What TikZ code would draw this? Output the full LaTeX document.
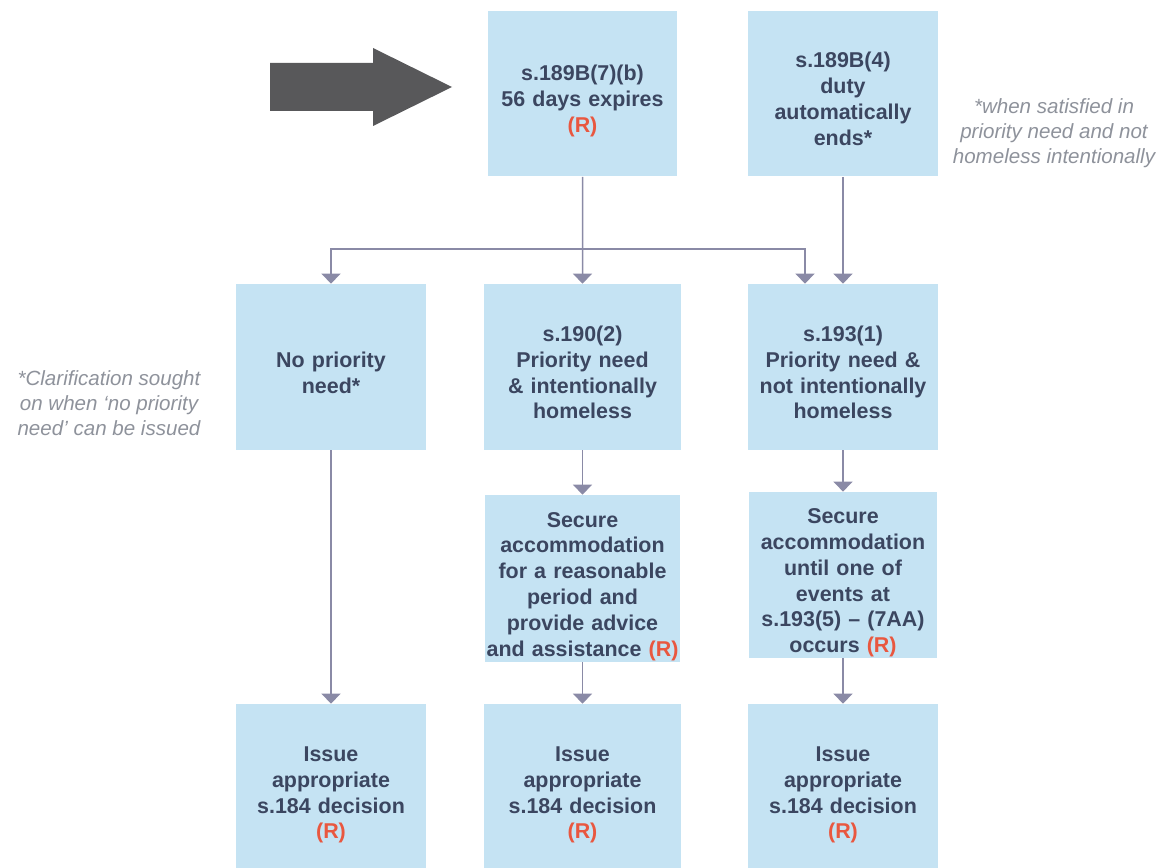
\documentclass[tikz,border=0pt]{standalone}
\usepackage{fontspec}
\setmainfont{Liberation Sans}
\usetikzlibrary{arrows.meta,calc}
\definecolor{boxblue}{HTML}{C5E3F3}
\definecolor{navy}{HTML}{3B4660}
\definecolor{rred}{HTML}{E9573F}
\definecolor{linegray}{HTML}{8A8AA6}
\definecolor{notegray}{HTML}{8E929B}
\definecolor{bigarrow}{HTML}{58585A}
\newcommand{\rmark}{\textcolor{rred}{(R)}}

\begin{document}
\begin{tikzpicture}[
  x=0.02cm, y=-0.02cm,
  box/.style={fill=boxblue, text=navy, align=center, text width=4cm,
    inner xsep=-0.2cm, inner ysep=0pt,
    minimum width=3.8cm, minimum height=3.32cm,
    font=\bfseries\fontsize{12.2}{14.7}\selectfont,
    execute at begin node={\rule{0pt}{18pt}},
    execute at end node={\rule[-3pt]{0pt}{3pt}}},
  note/.style={text=notegray, align=center,
    font=\itshape\fontsize{11.7}{14.3}\selectfont},
  conn/.style={draw=linegray, line width=0.85pt,
    -{Triangle[width=0.38cm,length=0.2cm]}}]
\useasboundingbox (0,0) rectangle (1163,868);

\fill[bigarrow] (270,63) -- (373,63) -- (373,48) -- (452,87) -- (373,126) -- (373,111) -- (270,111) -- cycle;

\node[box] (t1) at (582.5,93.5) {s.189B(7)(b)\\56 days expires\\\rmark};
\node[box] (t2) at (843,93.5) {s.189B(4)\\duty\\automatically\\ends*};
\node[box] (2l) at (331,367) {No priority\\need*};
\node[box, minimum width=3.94cm] (2m) at (582.5,367) {s.190(2)\\Priority need\\\& intentionally\\homeless};
\node[box] (2r) at (843,367) {s.193(1)\\Priority need \&\\not intentionally\\homeless};
\node[box, minimum width=3.9cm, minimum height=3.34cm] (3m) at (582.5,578.5) {Secure\\accommodation\\for a reasonable\\period and\\provide advice\\and assistance \rmark};
\node[box, minimum width=3.76cm] (3r) at (843,575) {Secure\\accommodation\\until one of\\events at\\s.193(5) -- (7AA)\\occurs \rmark};
\foreach \n/\x/\w in {4l/331/3.8cm, 4m/582.5/3.94cm, 4r/843/3.8cm}
  \node[box, minimum width=\w] (\n) at (\x,787) {Issue\\appropriate\\s.184 decision\\\rmark};

\node[note] (n1) at (1054,133) {*when satisfied in\\priority need and not\\homeless intentionally};
\node[note] (n2) at (109,403) {*Clarification sought\\on when ‘no priority\\need’ can be issued};

\coordinate (j) at (582.5,249);
\draw[conn] (t1) -- (2m);
\draw[conn] (j) -| (2l.north);
\draw[conn] (j) -| ($(2r.north)+(-38,0)$);
\draw[conn] (t2) -- (2r);
\draw[conn] (2l) -- (4l);
\draw[conn] (2m) -- (3m);
\draw[conn] (3m) -- (4m);
\draw[conn] (2r) -- (3r);
\draw[conn] (3r) -- (4r);
\end{tikzpicture}
\end{document}
